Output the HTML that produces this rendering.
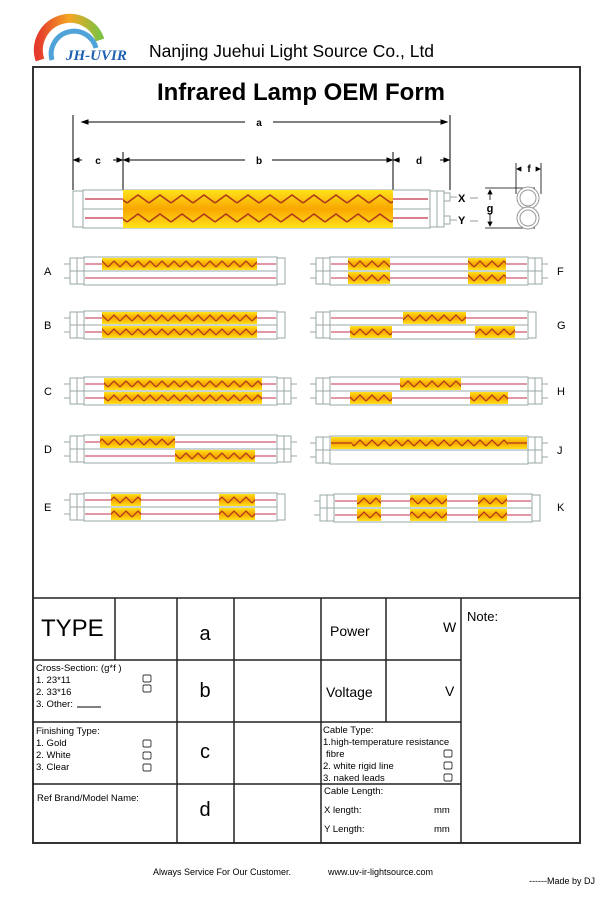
<!DOCTYPE html>
<html><head><meta charset="utf-8"><style>
html,body{margin:0;padding:0;background:#fff;}
svg{display:block;font-family:"Liberation Sans",Arial,sans-serif;}
</style></head><body>
<svg width="608" height="904" viewBox="0 0 608 904" xmlns="http://www.w3.org/2000/svg">
<defs>
<linearGradient id="gd" x1="0" y1="0" x2="0" y2="1">
<stop offset="0" stop-color="#ffe21a"/><stop offset="0.5" stop-color="#f9a600"/><stop offset="1" stop-color="#ffe21a"/>
</linearGradient>
<pattern id="zz" patternUnits="userSpaceOnUse" width="12" height="14">
<path d="M0,10 L6,4 L12,10" fill="none" stroke="#b03a1a" stroke-width="1.3"/>
</pattern>
<pattern id="zzb" patternUnits="userSpaceOnUse" width="22" height="19">
<path d="M0,13 L11,5 L22,13" fill="none" stroke="#b03a1a" stroke-width="1.6"/>
</pattern>
<linearGradient id="rb" x1="0" y1="0" x2="1" y2="0">
<stop offset="0" stop-color="#e53b2c"/><stop offset="0.5" stop-color="#f5a623"/><stop offset="1" stop-color="#7ec242"/>
</linearGradient>
<g id="capL" fill="#fff" stroke="#9aa7a7" stroke-width="1">
<rect x="-14" y="1" width="14" height="26"/><line x1="-7" y1="1" x2="-7" y2="27"/><line x1="-14" y1="14" x2="0" y2="14"/>
<line x1="-20" y1="7" x2="-14" y2="7"/><line x1="-20" y1="21" x2="-14" y2="21"/>
</g>
<g id="capR" fill="#fff" stroke="#9aa7a7" stroke-width="1">
<rect x="0" y="1" width="14" height="26"/><line x1="7" y1="1" x2="7" y2="27"/><line x1="0" y1="14" x2="14" y2="14"/>
<line x1="14" y1="7" x2="20" y2="7"/><line x1="14" y1="21" x2="20" y2="21"/>
</g>
</defs>

<path d="M40,60 A30,30 0 0 1 100,40" fill="none" stroke="url(#rb)" stroke-width="9"/>
<path d="M52,60 A22,22 0 0 1 96,48" fill="none" stroke="#4fa3d8" stroke-width="5"/>
<text x="66" y="60" font-family="Liberation Serif,serif" font-style="italic" font-weight="bold" font-size="15" fill="#1d5fb0">JH-UVIR</text>
<text x="149" y="57" font-size="17.5" fill="#000">Nanjing Juehui Light Source Co., Ltd</text>

<rect x="33" y="67" width="547" height="776" fill="none" stroke="#333" stroke-width="2"/>
<text x="301" y="100" font-size="24" font-weight="bold" text-anchor="middle" fill="#000">Infrared Lamp OEM Form</text>

<g stroke="#000" stroke-width="1" fill="#000">
<line x1="73" y1="115" x2="73" y2="190"/><line x1="450" y1="115" x2="450" y2="190"/>
<line x1="123" y1="152" x2="123" y2="190"/><line x1="393" y1="152" x2="393" y2="190"/>
<line x1="84" y1="122" x2="245" y2="122"/><line x1="273" y1="122" x2="445" y2="122"/>
<path d="M82,122 l6,-2 v4z M447,122 l-6,-2 v4z"/>
<line x1="76" y1="160" x2="82" y2="160"/><path d="M74,160 l5,-2 v4z"/>
<line x1="113" y1="160" x2="120" y2="160"/><path d="M122,160 l-5,-2 v4z"/>
<line x1="125" y1="160" x2="245" y2="160"/><path d="M124,160 l5,-2 v4z"/>
<line x1="272" y1="160" x2="391" y2="160"/><path d="M392,160 l-5,-2 v4z"/>
<line x1="395" y1="160" x2="400" y2="160"/><path d="M394,160 l5,-2 v4z"/>
<line x1="440" y1="160" x2="448" y2="160"/><path d="M449,160 l-5,-2 v4z"/>
</g>
<g font-size="10" font-weight="bold" text-anchor="middle" fill="#000">
<text x="259" y="126">a</text><text x="98" y="164">c</text><text x="259" y="164">b</text><text x="419" y="164">d</text>
</g>

<g transform="translate(83,190)">
<rect x="0" y="0" width="347" height="38" fill="#fff" stroke="#9aa7a7"/>
<line x1="0" y1="19" x2="347" y2="19" stroke="#9aa7a7"/>
<line x1="2" y1="9" x2="345" y2="9" stroke="#c03048" stroke-width="1.3"/>
<line x1="2" y1="28" x2="345" y2="28" stroke="#c03048" stroke-width="1.3"/>
<rect x="40" y="0" width="270" height="38" fill="url(#gd)"/>
<rect x="40" y="0" width="270" height="38" fill="url(#zzb)"/>
<rect x="-10" y="1" width="10" height="36" fill="#fff" stroke="#9aa7a7"/>
<rect x="347" y="1" width="7" height="36" fill="#fff" stroke="#9aa7a7"/>
<rect x="354" y="1" width="7" height="36" fill="#fff" stroke="#9aa7a7"/>
<rect x="361" y="3" width="6" height="8" fill="#fff" stroke="#9aa7a7"/>
<rect x="361" y="26" width="6" height="8" fill="#fff" stroke="#9aa7a7"/>
<line x1="367" y1="7" x2="374" y2="7" stroke="#9aa7a7"/><line x1="367" y1="30" x2="374" y2="30" stroke="#9aa7a7"/>
</g>
<text x="458" y="202" font-size="11" font-weight="bold">X</text>
<text x="458" y="224" font-size="11" font-weight="bold">Y</text>
<line x1="470" y1="198" x2="478" y2="198" stroke="#999"/><line x1="470" y1="221" x2="478" y2="221" stroke="#999"/>
<g stroke="#000" stroke-width="0.8" fill="none">
<line x1="485" y1="188" x2="535" y2="188"/><line x1="485" y1="228" x2="535" y2="228"/>
<line x1="490" y1="191" x2="490" y2="200"/><path d="M490,190 l-2,4 h4z" fill="#000"/>
<line x1="490" y1="213" x2="490" y2="224"/><path d="M490,226 l-2,-4 h4z" fill="#000"/>
<line x1="516" y1="163" x2="516" y2="194"/><line x1="541" y1="163" x2="541" y2="194"/>
<path d="M517,169 l4,-2 v4z M540,169 l-4,-2 v4z" fill="#000"/>
</g>
<g stroke="#999" stroke-width="1" fill="#fff">
<circle cx="528" cy="198" r="11"/><circle cx="528" cy="218" r="11"/>
<circle cx="528" cy="198" r="8"/><circle cx="528" cy="218" r="8"/>
</g>
<text x="490" y="212" font-size="11" font-weight="bold" text-anchor="middle">g</text>
<text x="529" y="172" font-size="10" font-weight="bold" text-anchor="middle">f</text>

<g transform="translate(84,257)">
<rect x="0" y="0" width="193" height="28" fill="#fff" stroke="#9aa7a7"/><line x1="0" y1="14" x2="193" y2="14" stroke="#9aa7a7"/>
<line x1="1" y1="7" x2="192" y2="7" stroke="#c03048"/><line x1="1" y1="21" x2="192" y2="21" stroke="#c03048"/>
<rect x="18" y="1" width="155" height="12" fill="url(#gd)"/><rect x="18" y="1" width="155" height="12" fill="url(#zz)"/>
<use href="#capL"/><rect x="193" y="1" width="8" height="26" fill="#fff" stroke="#9aa7a7"/>
</g>
<g transform="translate(84,311)">
<rect x="0" y="0" width="193" height="28" fill="#fff" stroke="#9aa7a7"/><line x1="0" y1="14" x2="193" y2="14" stroke="#9aa7a7"/>
<line x1="1" y1="7" x2="192" y2="7" stroke="#c03048"/><line x1="1" y1="21" x2="192" y2="21" stroke="#c03048"/>
<rect x="18" y="1" width="155" height="12" fill="url(#gd)"/><rect x="18" y="1" width="155" height="12" fill="url(#zz)"/>
<rect x="18" y="15" width="155" height="12" fill="url(#gd)"/><rect x="18" y="15" width="155" height="12" fill="url(#zz)"/>
<use href="#capL"/><rect x="193" y="1" width="8" height="26" fill="#fff" stroke="#9aa7a7"/>
</g>
<g transform="translate(84,377)">
<rect x="0" y="0" width="193" height="28" fill="#fff" stroke="#9aa7a7"/><line x1="0" y1="14" x2="193" y2="14" stroke="#9aa7a7"/>
<line x1="1" y1="7" x2="192" y2="7" stroke="#c03048"/><line x1="1" y1="21" x2="192" y2="21" stroke="#c03048"/>
<rect x="20" y="1" width="158" height="12" fill="url(#gd)"/><rect x="20" y="1" width="158" height="12" fill="url(#zz)"/>
<rect x="20" y="15" width="158" height="12" fill="url(#gd)"/><rect x="20" y="15" width="158" height="12" fill="url(#zz)"/>
<use href="#capL"/><use href="#capR" x="193"/>
</g>
<g transform="translate(84,435)">
<rect x="0" y="0" width="193" height="28" fill="#fff" stroke="#9aa7a7"/><line x1="0" y1="14" x2="193" y2="14" stroke="#9aa7a7"/>
<line x1="1" y1="7" x2="192" y2="7" stroke="#c03048"/><line x1="1" y1="21" x2="192" y2="21" stroke="#c03048"/>
<rect x="16" y="1" width="75" height="12" fill="url(#gd)"/><rect x="16" y="1" width="75" height="12" fill="url(#zz)"/>
<rect x="91" y="15" width="80" height="12" fill="url(#gd)"/><rect x="91" y="15" width="80" height="12" fill="url(#zz)"/>
<use href="#capL"/><use href="#capR" x="193"/>
</g>
<g transform="translate(84,493)">
<rect x="0" y="0" width="193" height="28" fill="#fff" stroke="#9aa7a7"/><line x1="0" y1="14" x2="193" y2="14" stroke="#9aa7a7"/>
<line x1="1" y1="7" x2="192" y2="7" stroke="#c03048"/><line x1="1" y1="21" x2="192" y2="21" stroke="#c03048"/>
<rect x="27" y="1" width="30" height="12" fill="url(#gd)"/><rect x="27" y="1" width="30" height="12" fill="url(#zz)"/>
<rect x="27" y="15" width="30" height="12" fill="url(#gd)"/><rect x="27" y="15" width="30" height="12" fill="url(#zz)"/>
<rect x="135" y="1" width="36" height="12" fill="url(#gd)"/><rect x="135" y="1" width="36" height="12" fill="url(#zz)"/>
<rect x="135" y="15" width="36" height="12" fill="url(#gd)"/><rect x="135" y="15" width="36" height="12" fill="url(#zz)"/>
<use href="#capL"/><rect x="193" y="1" width="8" height="26" fill="#fff" stroke="#9aa7a7"/>
</g>
<g transform="translate(330,257)">
<rect x="0" y="0" width="198" height="28" fill="#fff" stroke="#9aa7a7"/><line x1="0" y1="14" x2="198" y2="14" stroke="#9aa7a7"/>
<line x1="1" y1="7" x2="197" y2="7" stroke="#c03048"/><line x1="1" y1="21" x2="197" y2="21" stroke="#c03048"/>
<rect x="18" y="1" width="42" height="12" fill="url(#gd)"/><rect x="18" y="1" width="42" height="12" fill="url(#zz)"/>
<rect x="18" y="15" width="42" height="12" fill="url(#gd)"/><rect x="18" y="15" width="42" height="12" fill="url(#zz)"/>
<rect x="138" y="1" width="38" height="12" fill="url(#gd)"/><rect x="138" y="1" width="38" height="12" fill="url(#zz)"/>
<rect x="138" y="15" width="38" height="12" fill="url(#gd)"/><rect x="138" y="15" width="38" height="12" fill="url(#zz)"/>
<use href="#capL"/><use href="#capR" x="198"/>
</g>
<g transform="translate(330,311)">
<rect x="0" y="0" width="198" height="28" fill="#fff" stroke="#9aa7a7"/><line x1="0" y1="14" x2="198" y2="14" stroke="#9aa7a7"/>
<line x1="1" y1="7" x2="197" y2="7" stroke="#c03048"/><line x1="1" y1="21" x2="197" y2="21" stroke="#c03048"/>
<rect x="73" y="1" width="63" height="12" fill="url(#gd)"/><rect x="73" y="1" width="63" height="12" fill="url(#zz)"/>
<rect x="20" y="15" width="42" height="12" fill="url(#gd)"/><rect x="20" y="15" width="42" height="12" fill="url(#zz)"/>
<rect x="145" y="15" width="40" height="12" fill="url(#gd)"/><rect x="145" y="15" width="40" height="12" fill="url(#zz)"/>
<use href="#capL"/><rect x="198" y="1" width="8" height="26" fill="#fff" stroke="#9aa7a7"/>
</g>
<g transform="translate(330,377)">
<rect x="0" y="0" width="198" height="28" fill="#fff" stroke="#9aa7a7"/><line x1="0" y1="14" x2="198" y2="14" stroke="#9aa7a7"/>
<line x1="1" y1="7" x2="197" y2="7" stroke="#c03048"/><line x1="1" y1="21" x2="197" y2="21" stroke="#c03048"/>
<rect x="70" y="1" width="61" height="12" fill="url(#gd)"/><rect x="70" y="1" width="61" height="12" fill="url(#zz)"/>
<rect x="20" y="15" width="42" height="12" fill="url(#gd)"/><rect x="20" y="15" width="42" height="12" fill="url(#zz)"/>
<rect x="140" y="15" width="38" height="12" fill="url(#gd)"/><rect x="140" y="15" width="38" height="12" fill="url(#zz)"/>
<use href="#capL"/><use href="#capR" x="198"/>
</g>
<g transform="translate(330,436)">
<rect x="0" y="0" width="198" height="28" fill="#fff" stroke="#9aa7a7"/><line x1="0" y1="14" x2="198" y2="14" stroke="#9aa7a7"/>
<line x1="1" y1="7" x2="197" y2="7" stroke="#c03048"/>
<rect x="1" y="1" width="196" height="12" fill="url(#gd)"/><rect x="22" y="1" width="156" height="12" fill="url(#zz)"/>
<line x1="1" y1="7" x2="22" y2="7" stroke="#b03a1a" stroke-width="1.3"/><line x1="178" y1="7" x2="197" y2="7" stroke="#b03a1a" stroke-width="1.3"/>
<use href="#capL"/><use href="#capR" x="198"/>
</g>
<g transform="translate(334,494)">
<rect x="0" y="0" width="198" height="28" fill="#fff" stroke="#9aa7a7"/><line x1="0" y1="14" x2="198" y2="14" stroke="#9aa7a7"/>
<line x1="1" y1="7" x2="197" y2="7" stroke="#c03048"/><line x1="1" y1="21" x2="197" y2="21" stroke="#c03048"/>
<rect x="23" y="1" width="24" height="12" fill="url(#gd)"/><rect x="23" y="1" width="24" height="12" fill="url(#zz)"/>
<rect x="23" y="15" width="24" height="12" fill="url(#gd)"/><rect x="23" y="15" width="24" height="12" fill="url(#zz)"/>
<rect x="76" y="1" width="37" height="12" fill="url(#gd)"/><rect x="76" y="1" width="37" height="12" fill="url(#zz)"/>
<rect x="76" y="15" width="37" height="12" fill="url(#gd)"/><rect x="76" y="15" width="37" height="12" fill="url(#zz)"/>
<rect x="144" y="1" width="29" height="12" fill="url(#gd)"/><rect x="144" y="1" width="29" height="12" fill="url(#zz)"/>
<rect x="144" y="15" width="29" height="12" fill="url(#gd)"/><rect x="144" y="15" width="29" height="12" fill="url(#zz)"/>
<use href="#capL"/><rect x="198" y="1" width="8" height="26" fill="#fff" stroke="#9aa7a7"/>
</g>
<g font-size="11" fill="#000">
<text x="44" y="275">A</text><text x="44" y="329">B</text><text x="44" y="395">C</text><text x="44" y="453">D</text><text x="44" y="511">E</text>
<text x="557" y="275">F</text><text x="557" y="329">G</text><text x="557" y="395">H</text><text x="557" y="454">J</text><text x="557" y="511">K</text>
</g>

<g stroke="#222" stroke-width="1.5" fill="none">
<line x1="33" y1="598" x2="580" y2="598"/>
<line x1="33" y1="660" x2="461" y2="660"/>
<line x1="33" y1="722" x2="461" y2="722"/>
<line x1="33" y1="784" x2="461" y2="784"/>
<line x1="115" y1="598" x2="115" y2="660"/>
<line x1="177" y1="598" x2="177" y2="843"/>
<line x1="234" y1="598" x2="234" y2="843"/>
<line x1="321" y1="598" x2="321" y2="843"/>
<line x1="386" y1="598" x2="386" y2="722"/>
<line x1="461" y1="598" x2="461" y2="843"/>
</g>
<g fill="#000">
<text x="41" y="636" font-size="24">TYPE</text>
<text x="205" y="640" font-size="20" text-anchor="middle">a</text>
<text x="205" y="697" font-size="20" text-anchor="middle">b</text>
<text x="205" y="758" font-size="20" text-anchor="middle">c</text>
<text x="205" y="816" font-size="20" text-anchor="middle">d</text>
<text x="330" y="636" font-size="14">Power</text>
<text x="443" y="632" font-size="14">W</text>
<text x="326" y="697" font-size="14">Voltage</text>
<text x="445" y="696" font-size="14">V</text>
<text x="467" y="621" font-size="13">Note:</text>
<g font-size="9.5">
<text x="36" y="671">Cross-Section:  (g*f )</text>
<text x="36" y="683">1. 23*11</text>
<text x="36" y="695">2. 33*16</text>
<text x="36" y="707">3. Other:</text>
<text x="36" y="734">Finishing Type:</text>
<text x="36" y="746">1. Gold</text>
<text x="36" y="758">2. White</text>
<text x="36" y="770">3. Clear</text>
<text x="37" y="801">Ref Brand/Model Name:</text>
<text x="323" y="733">Cable Type:</text>
<text x="323" y="745">1.high-temperature resistance</text>
<text x="326" y="757">fibre</text>
<text x="323" y="769">2. white rigid line</text>
<text x="323" y="781">3. naked leads</text>
<text x="324" y="794">Cable Length:</text>
<text x="324" y="813">X length:</text>
<text x="434" y="813">mm</text>
<text x="324" y="832">Y Length:</text>
<text x="434" y="832">mm</text>
</g>
</g>
<line x1="77" y1="707" x2="101" y2="707" stroke="#000"/>
<g fill="none" stroke="#333" stroke-width="0.9">
<rect x="143" y="675" width="8" height="7" rx="1.5"/><rect x="143" y="685" width="8" height="7" rx="1.5"/>
<rect x="143" y="740" width="8" height="7" rx="1.5"/><rect x="143" y="752" width="8" height="7" rx="1.5"/><rect x="143" y="764" width="8" height="7" rx="1.5"/>
<rect x="444" y="750" width="8" height="7" rx="1.5"/><rect x="444" y="762" width="8" height="7" rx="1.5"/><rect x="444" y="774" width="8" height="7" rx="1.5"/>
</g>

<text x="153" y="875" font-size="9" fill="#000">Always Service For Our Customer.</text>
<text x="328" y="875" font-size="9" fill="#000">www.uv-ir-lightsource.com</text>
<text x="529" y="884" font-size="9" fill="#000">------Made by DJ</text>
</svg>
</body></html>
